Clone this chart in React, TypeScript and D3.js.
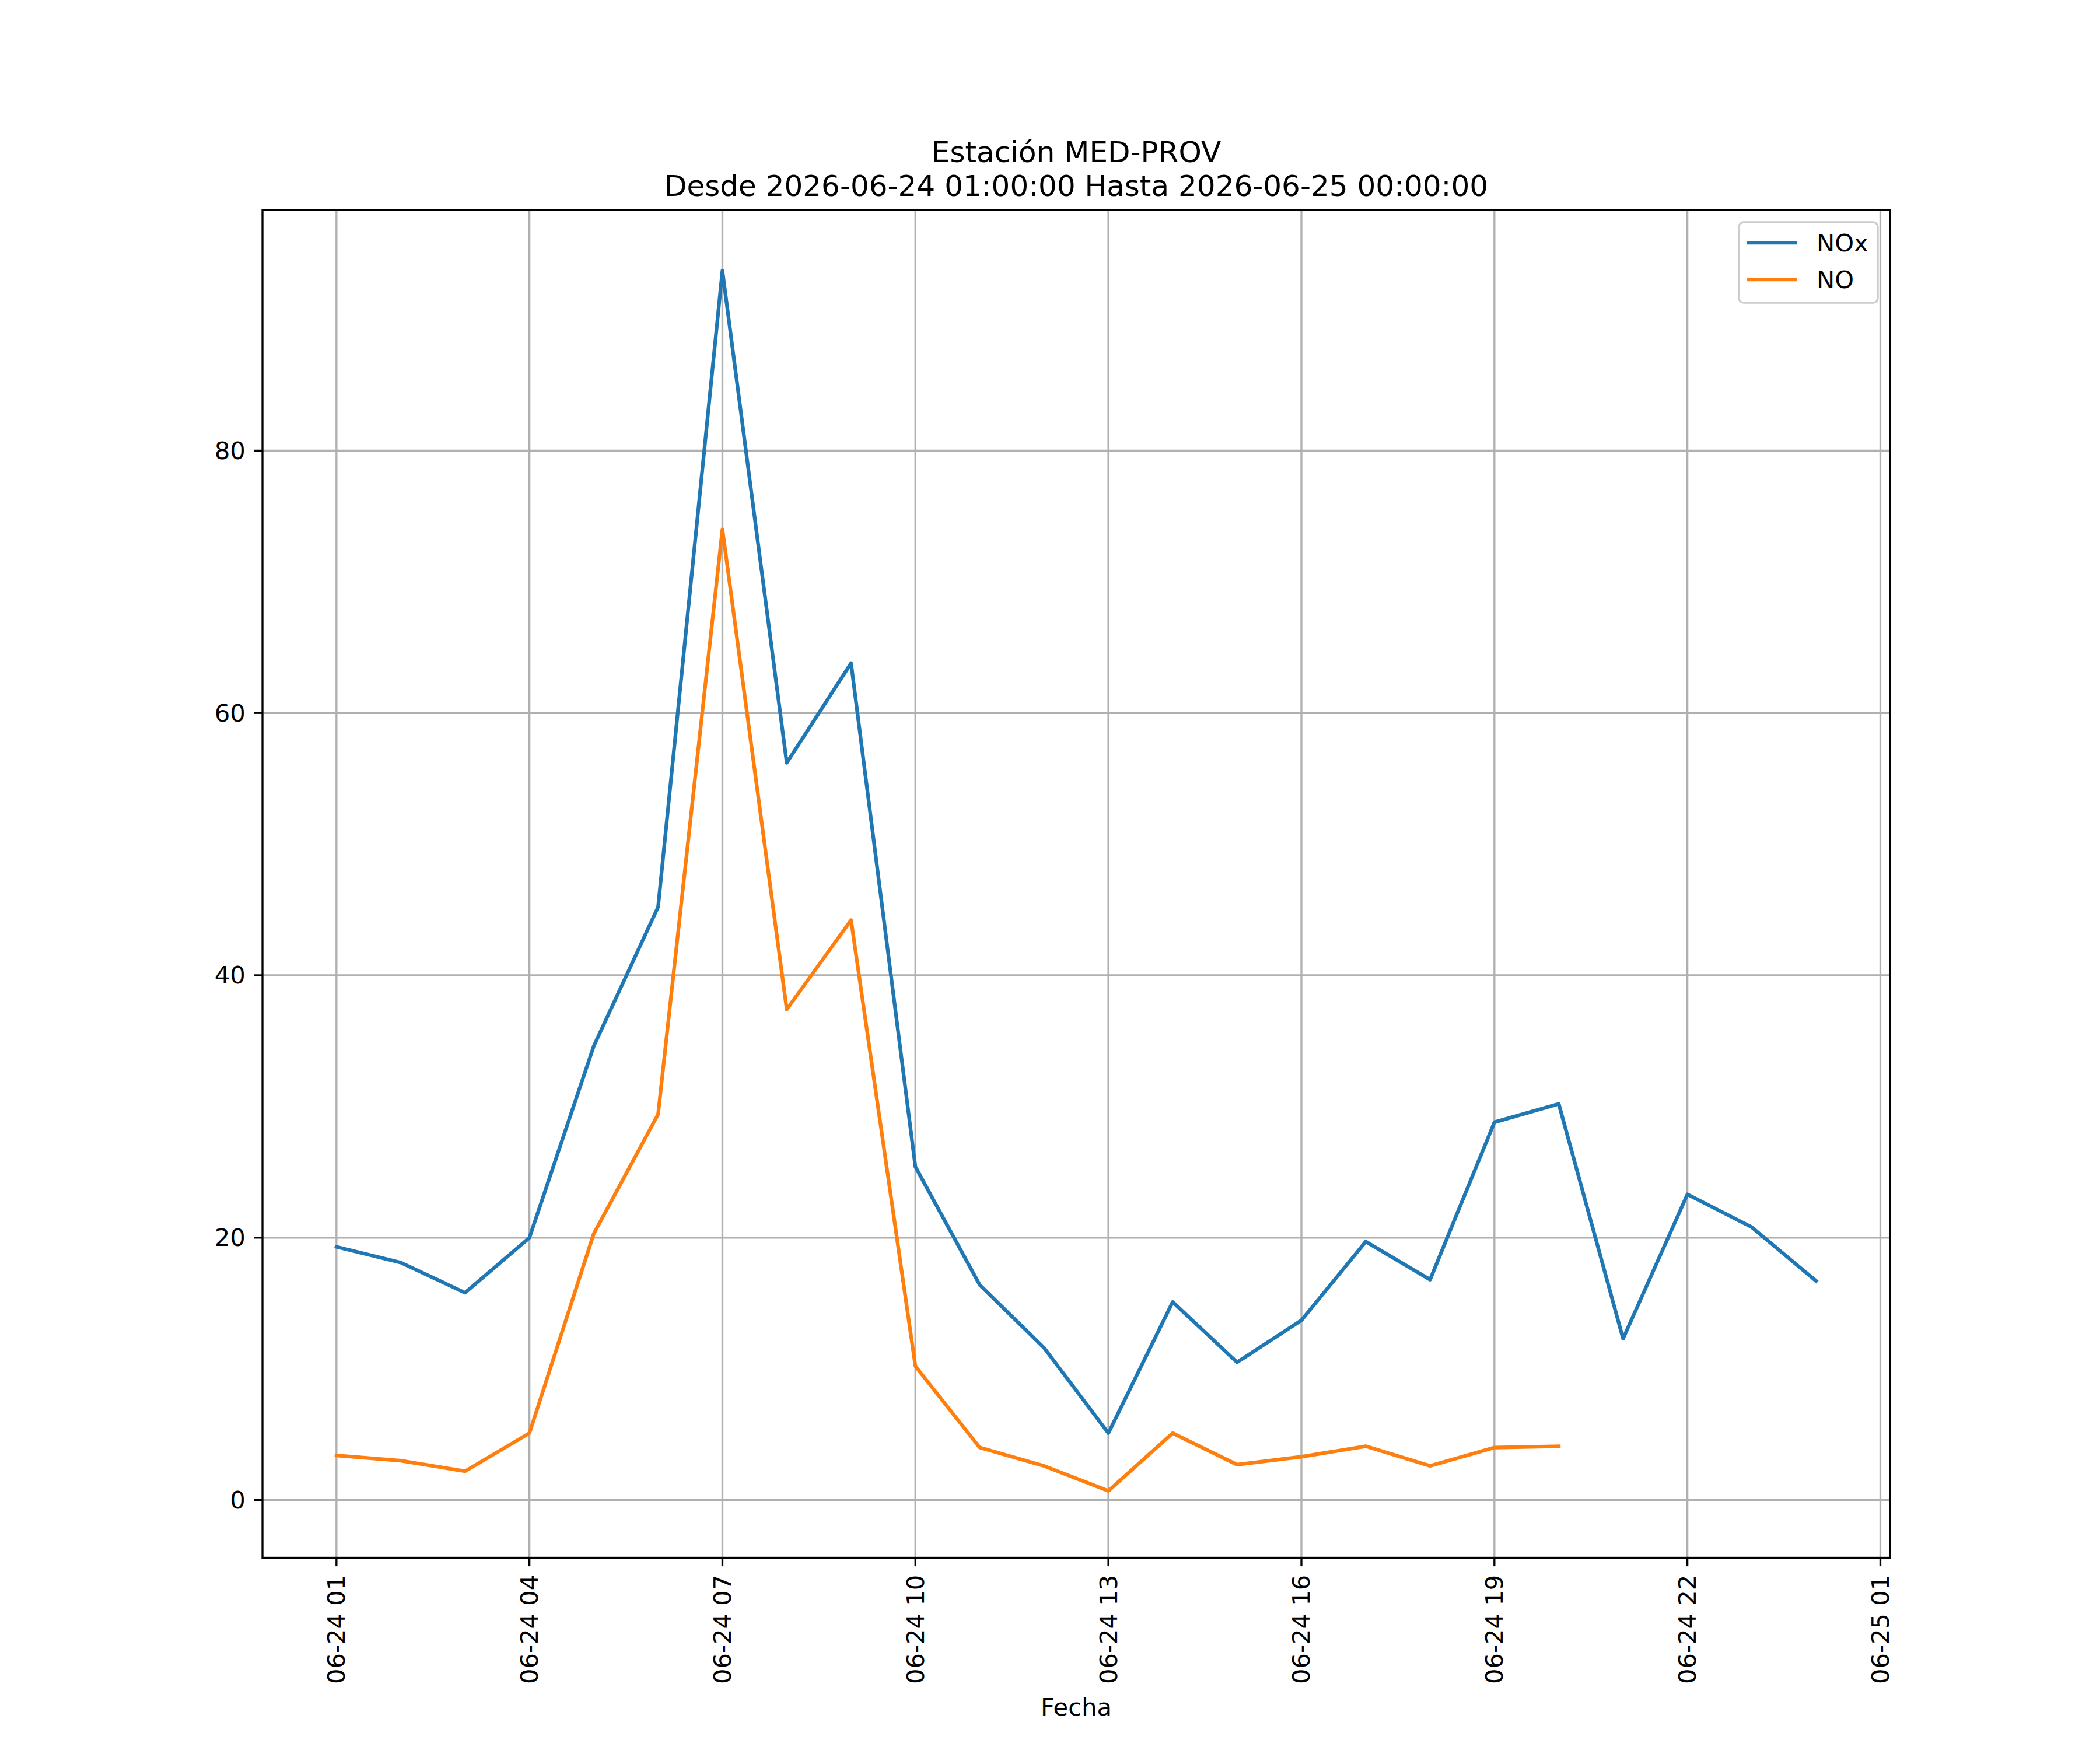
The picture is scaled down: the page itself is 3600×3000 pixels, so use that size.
import React from "react";
import * as d3 from "d3";

const titleLines = ["Estación MED-PROV", "Desde 2026-06-24 01:00:00 Hasta 2026-06-25 00:00:00"];
const xLabel = "Fecha";
const seriesNames = ["NOx", "NO"];
const seriesColors = ["#1f77b4", "#ff7f0e"];

const startTime = "2026-06-24T01:00";
const noxValues = [19.3, 18.1, 15.8, 20.0, 34.6, 45.2, 93.7, 56.2, 63.8, 25.4, 16.4, 11.6, 5.1, 15.1, 10.5, 13.7, 19.7, 16.8, 28.8, 30.2, 12.3, 23.3, 20.8, 16.7];
const noValues = [3.4, 3.0, 2.2, 5.1, 20.3, 29.4, 74.0, 37.4, 44.2, 10.2, 4.0, 2.6, 0.7, 5.1, 2.7, 3.3, 4.1, 2.6, 4.0, 4.1];

const xTickStrings = [
  "2026-06-24T01:00", "2026-06-24T04:00", "2026-06-24T07:00", "2026-06-24T10:00",
  "2026-06-24T13:00", "2026-06-24T16:00", "2026-06-24T19:00", "2026-06-24T22:00",
  "2026-06-25T01:00",
];
const yTicks = [0, 20, 40, 60, 80];
const yDomain = [-4.4, 98.34];

const W = 3600, H = 3000;
const L = 450, R = 3240, T = 360, B = 2670.5;
const FONT = "DejaVu Sans";
const tickFs = 41.67;
const lw = 6.25;
const thin = 3.33;

export default function App() {
  const parse = d3.utcParse("%Y-%m-%dT%H:%M");
  const fmt = d3.utcFormat("%m-%d %H");
  const t0 = parse(startTime)!;
  const times = noxValues.map((_, i) => d3.utcHour.offset(t0, i));
  const tStart = times[0];
  const tEnd = times[times.length - 1];
  const span = +tEnd - +tStart;
  const x = d3.scaleUtc()
    .domain([new Date(+tStart - span * 0.05), new Date(+tEnd + span * 0.05)])
    .range([L, R]);
  const y = d3.scaleLinear().domain(yDomain).range([B, T]);
  const xTicks = xTickStrings.map((s) => parse(s)!);

  const line = d3.line<[Date, number]>()
    .x((d) => x(d[0]))
    .y((d) => y(d[1]));
  const series = [noxValues, noValues].map((vals) =>
    vals.map((v, i) => [times[i], v] as [Date, number])
  );

  const legendLeft = 2981, legendTop = 381, legendRight = 3219, legendBottom = 519;

  return (
    <div style={{ position: "absolute", left: 0, top: 0 }}>
      <svg width={W} height={H} viewBox={`0 0 ${W} ${H}`} style={{ display: "block", background: "#fff" }}>
        <defs>
          <clipPath id="plotclip">
            <rect x={L} y={T} width={R - L} height={B - T} />
          </clipPath>
        </defs>
        <rect x={0} y={0} width={W} height={H} fill="#fff" />
        {/* grid */}
        <g stroke="#b0b0b0" strokeWidth={thin}>
          {xTicks.map((t, i) => (
            <line key={"gx" + i} x1={x(t)} x2={x(t)} y1={T} y2={B} />
          ))}
          {yTicks.map((v, i) => (
            <line key={"gy" + i} x1={L} x2={R} y1={y(v)} y2={y(v)} />
          ))}
        </g>
        {/* series */}
        <g clipPath="url(#plotclip)">
          {series.map((s, i) => (
            <path key={"s" + i} d={line(s) || ""} fill="none" stroke={seriesColors[i]}
              strokeWidth={lw} strokeLinejoin="round" strokeLinecap="square" />
          ))}
        </g>
        {/* spines */}
        <rect x={L} y={T} width={R - L} height={B - T} fill="none" stroke="#000" strokeWidth={thin} />
        {/* ticks */}
        <g fontFamily={FONT} fontSize={tickFs} fill="#000">
          {yTicks.map((v, i) => (
            <g key={"yt" + i}>
              <line x1={L - 14.6} x2={L} y1={y(v)} y2={y(v)} stroke="#000" strokeWidth={thin} />
              <text x={L - 29.2} y={y(v)} textAnchor="end" dominantBaseline="central">{v}</text>
            </g>
          ))}
          {xTicks.map((t, i) => (
            <g key={"xt" + i}>
              <line x1={x(t)} x2={x(t)} y1={B} y2={B + 14.6} stroke="#000" strokeWidth={thin} />
              <text transform={`translate(${x(t)},${B + 29.2}) rotate(-90)`} textAnchor="end"
                dominantBaseline="central">{fmt(t)}</text>
            </g>
          ))}
          <text x={(L + R) / 2} y={2941} textAnchor="middle">{xLabel}</text>
        </g>
        {/* title */}
        <g fontFamily={FONT} fontSize={50} fill="#000" textAnchor="middle">
          <text x={(L + R) / 2} y={278}>{titleLines[0]}</text>
          <text x={(L + R) / 2} y={336}>{titleLines[1]}</text>
        </g>
        {/* legend */}
        <g>
          <rect x={legendLeft} y={legendTop} width={legendRight - legendLeft} height={legendBottom - legendTop}
            rx={8} ry={8} fill="#fff" fillOpacity={0.8} stroke="#cccccc" strokeWidth={thin} />
          {seriesNames.map((name, i) => {
            const ly = 416 + i * 63;
            return (
              <g key={"lg" + i}>
                <line x1={2994} x2={3080} y1={ly} y2={ly} stroke={seriesColors[i]} strokeWidth={lw} />
                <text x={3114} y={ly} dominantBaseline="central" fontFamily={FONT} fontSize={tickFs} fill="#000">{name}</text>
              </g>
            );
          })}
        </g>
      </svg>
    </div>
  );
}
